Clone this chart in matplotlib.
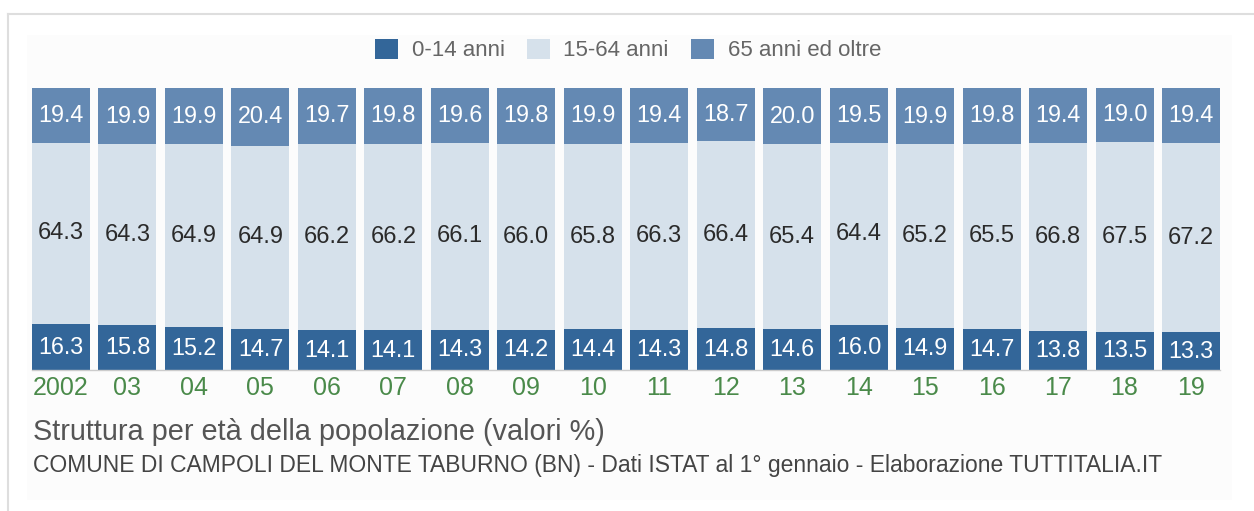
import matplotlib
matplotlib.use("Agg")
import matplotlib.pyplot as plt
from matplotlib.patches import Rectangle
from matplotlib.lines import Line2D
import numpy as np

years = ["2002", "03", "04", "05", "06", "07", "08", "09", "10", "11",
         "12", "13", "14", "15", "16", "17", "18", "19"]
age_0_14 = [16.3, 15.8, 15.2, 14.7, 14.1, 14.1, 14.3, 14.2, 14.4, 14.3,
            14.8, 14.6, 16.0, 14.9, 14.7, 13.8, 13.5, 13.3]
age_15_64 = [64.3, 64.3, 64.9, 64.9, 66.2, 66.2, 66.1, 66.0, 65.8, 66.3,
             66.4, 65.4, 64.4, 65.2, 65.5, 66.8, 67.5, 67.2]
age_65 = [19.4, 19.9, 19.9, 20.4, 19.7, 19.8, 19.6, 19.8, 19.9, 19.4,
          18.7, 20.0, 19.5, 19.9, 19.8, 19.4, 19.0, 19.4]
series_labels = ["0-14 anni", "15-64 anni", "65 anni ed oltre"]
title = "Struttura per età della popolazione (valori %)"
subtitle = "COMUNE DI CAMPOLI DEL MONTE TABURNO (BN) - Dati ISTAT al 1° gennaio - Elaborazione TUTTITALIA.IT"

c_dark = "#336699"
c_light = "#d6e1eb"
c_mid = "#6489b3"

plt.rcParams['font.family'] = ['Liberation Sans', 'DejaVu Sans']

W, H = 1254, 511
fig = plt.figure(figsize=(W / 100, H / 100), dpi=100)
fig.patch.set_facecolor("white")

def fx(px):
    return px / W

def fy(py):
    return 1 - py / H

# outer border and inner panel
fig.add_artist(Line2D([fx(8), fx(1254)], [fy(14), fy(14)], color="#dedede", lw=1.5))
fig.add_artist(Line2D([fx(8), fx(8)], [fy(14), fy(511)], color="#dedede", lw=1.5))
fig.add_artist(Rectangle((fx(27), fy(500)), fx(1232) - fx(27), fy(35) - fy(500),
                         facecolor="#fcfcfc", edgecolor="none", zorder=0))

ax = fig.add_axes([fx(32), fy(370), fx(1220) - fx(32), fy(88) - fy(370)])
ax.set_facecolor("none")

x = np.arange(len(years))
a = np.array(age_0_14)
b = np.array(age_15_64)
c = np.array(age_65)
width = 58 / 66.47
b1 = ax.bar(x, a, width=width, color=c_dark, label=series_labels[0])
b2 = ax.bar(x, b, width=width, bottom=a, color=c_light, label=series_labels[1])
b3 = ax.bar(x, c, width=width, bottom=a + b, color=c_mid, label=series_labels[2])

for i in range(len(years)):
    ax.text(x[i], a[i] / 2, f"{a[i]:.1f}", ha="center", va="center",
            color="white", fontsize=16.8)
    ax.text(x[i], a[i] + b[i] / 2, f"{b[i]:.1f}", ha="center", va="center",
            color="#2a2a2a", fontsize=17)
    ax.text(x[i], a[i] + b[i] + c[i] / 2, f"{c[i]:.1f}", ha="center", va="center",
            color="white", fontsize=16.8)

ax.set_xlim(-width / 2, len(years) - 1 + width / 2)
ax.set_ylim(0, 100)
ax.set_yticks([])
ax.set_xticks(x)
ax.set_xticklabels(years, color="#4a8a4a", fontsize=18)
ax.tick_params(axis="x", length=0, pad=4)
for s in ["top", "left", "right"]:
    ax.spines[s].set_visible(False)
ax.spines["bottom"].set_color("#cccccc")
ax.spines["bottom"].set_linewidth(1)

fig.legend(handles=[b1, b2, b3], labels=series_labels, loc="center",
           bbox_to_anchor=(fx(628), fy(50)), ncol=3, frameon=False,
           fontsize=16, handlelength=1.05, handleheight=1.05,
           handletextpad=0.6, columnspacing=1.0, labelcolor="#666666")

fig.text(fx(33), fy(440), title, ha="left", va="baseline", fontsize=20.8, color="#555555")
fig.text(fx(33), fy(472), subtitle, ha="left", va="baseline", fontsize=16.5, color="#444444")

fig.savefig("out.png", dpi=100, facecolor="white")
